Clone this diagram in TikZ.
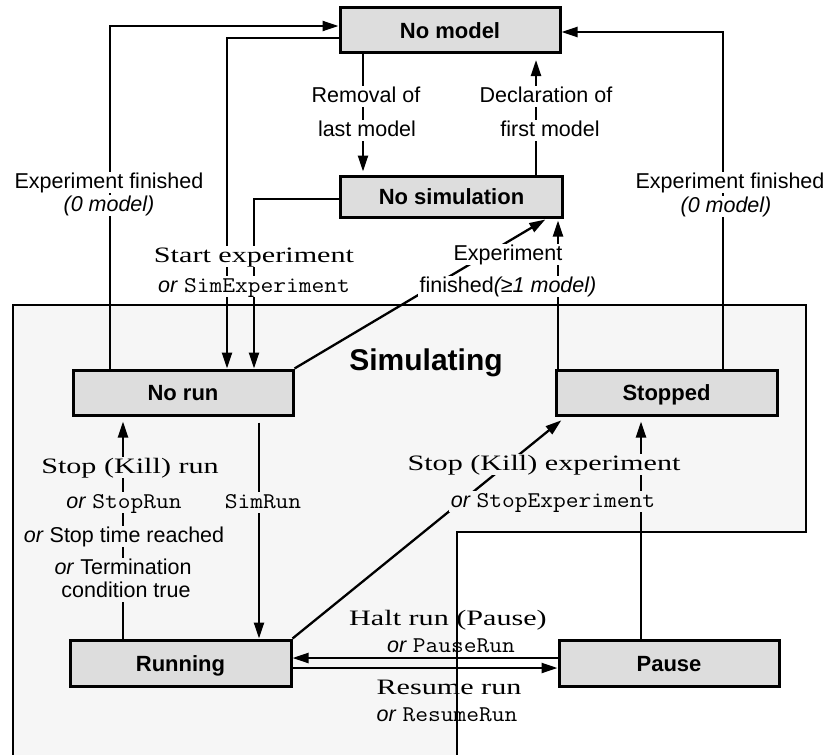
\documentclass[tikz,border=0pt]{standalone}
\usepackage{fontspec}
\setmainfont{Liberation Sans}
\newfontfamily\widerm[FakeStretch=1.37]{Liberation Serif}
\newfontfamily\codefont[FakeStretch=1.1]{Latin Modern Mono}
\usetikzlibrary{arrows.meta,calc}

\definecolor{boxgray}{RGB}{221,221,221}
\definecolor{simgray}{RGB}{246,246,246}

% text helpers: stretched serif, typewriter commands, italic "or"
\newcommand{\srf}[1]{{\widerm\fontsize{22}{26}\selectfont #1}}
\newcommand{\code}[1]{{\codefont\fontsize{22.5}{26}\selectfont #1}}
\newcommand{\orw}{\textit{or} }

\begin{document}
\begin{tikzpicture}[x=1pt,y=-1pt,
  statebox/.style={draw,line width=3pt,fill=boxgray,minimum width=#1,
    inner sep=0pt,font=\fontsize{22}{26}\selectfont\bfseries,
    text height=16pt,text depth=0pt},
  conn/.style={line width=2.3pt,-{Triangle[length=16pt,width=10pt]}},
  lbl/.style={anchor=base,inner xsep=1.5pt,inner ysep=0.5pt,
    text height=15.5pt,text depth=4.5pt,font=\fontsize{21.5}{26}\selectfont},
  lblw/.style={lbl,fill=white},
  lblg/.style={lbl,fill=simgray},
  lbln/.style={lbl}]
\useasboundingbox (0,0) rectangle (828,755);

% the "Simulating" super-state, open at the bottom
\fill[simgray] (13,765) -- (13,305) -- (806,305) -- (806,532) -- (457,532) -- (457,765) -- cycle;
\draw[line width=2.5pt] (13,765) -- (13,305) -- (806,305) -- (806,532) -- (457,532) -- (457,765);
\node[font=\fontsize{30}{34}\selectfont\bfseries,anchor=base] (simlabel) at (426,370) {Simulating};

% states
\node[statebox=220pt,minimum height=45pt] (nomodel) at (450,30) {No model};
\node[statebox=222pt,minimum height=41pt] (nosim) at (451.5,196.5) {No simulation};
\node[statebox=220pt,minimum height=45pt] (norun) at (183,392.5) {No run};
\node[statebox=221pt,minimum height=45pt] (stopped) at (666.5,392.5) {Stopped};
\node[statebox=221pt,minimum height=46pt] (running) at (180.5,663) {Running};
\node[statebox=220pt,minimum height=46pt] (pause) at (669,663) {Pause};

% columns and rows used by the connectors
\coordinate (c110) at (110,0);
\coordinate (c123) at (123,0);
\coordinate (c227) at (227,0);
\coordinate (c254) at (254,0);
\coordinate (c259) at (259,0);
\coordinate (c363) at (363,0);
\coordinate (c536) at (536,0);
\coordinate (c547) at (547,0);
\coordinate (c558) at (558,0);
\coordinate (c566) at (566,0);
\coordinate (c641) at (641,0);
\coordinate (c723) at (723,0);
\coordinate (r26) at (0,26);
\coordinate (r32) at (0,32);
\coordinate (r38) at (0,38);
\coordinate (r199) at (0,199);
\coordinate (r658) at (0,658);
\coordinate (r668) at (0,668);

% transitions
\draw[conn] (norun.north -| c110) |- (nomodel.west |- r26);
\draw[conn] (nomodel.west |- r38) -| (norun.north -| c227);
\draw[conn] (nosim.west |- r199) -| (norun.north -| c254);
\draw[conn,shorten >=3pt] (nomodel.south -| c363) -- (nosim.north -| c363);
\draw[conn,shorten >=6pt] (nosim.north -| c536) -- (nomodel.south -| c536);
\draw[conn,shorten >=2pt] (norun.north east) -- (nosim.south -| c547);
\draw[conn,shorten >=2pt] (stopped.north -| c558) -- (nosim.south -| c558);
\draw[conn] (stopped.north -| c723) |- (nomodel.east |- r32);
\draw[conn,shorten <=6pt] (norun.south -| c259) -- (running.north -| c259);
\draw[conn,shorten >=5pt] (running.north -| c123) -- (norun.south -| c123);
\draw[conn,shorten >=6pt] (running.north east) -- (stopped.south -| c566);
\draw[conn,shorten >=5pt] (pause.north -| c641) -- (stopped.south -| c641);
\draw[conn] (pause.west |- r658) -- (running.east |- r658);
\draw[conn] (running.east |- r668) -- (pause.west |- r668);

% transition labels
\node[lblw] (l1a) at (109,188) {Experiment finished};
\node[lblw] (l1b) at (109,211) {\textit{(0 model)}};
\node[lblw] (l2a) at (254,262) {\srf{Start experiment}};
\node[lblw] (l2b) at (254,292) {\orw\code{SimExperiment}};
\node[lblw] (l3a) at (366,102) {Removal of};
\node[lblw] (l3b) at (367,136) {last model};
\node[lblw] (l4a) at (546,102) {Declaration of};
\node[lblw] (l4b) at (550,136) {first model};
\node[lblw] (l5a) at (508,260) {Experiment};
\node[lblw] (l5b) at (508,292) {finished\textit{(≥1 model)}};
\node[lblw] (l6a) at (730,188) {Experiment finished};
\node[lblw] (l6b) at (726,212) {\textit{(0 model)}};
\node[lblg] (l7a) at (130,473) {\srf{Stop (Kill) run}};
\node[lblg] (l7b) at (124,508) {\orw\code{StopRun}};
\node[lblg] (l7c) at (124,542) {\textit{or} Stop time reached};
\node[lblg] (l7d) at (123,574) {\textit{or} Termination};
\node[lblg,text height=19pt] (l7e) at (126,597) {condition true};
\node[lblg] (l8) at (263,508) {\code{SimRun}};
\node[lblg] (l9a) at (544,470) {\srf{Stop (Kill) experiment}};
\node[lblg] (l9b) at (553,507) {\orw\code{StopExperiment}};
\node[lbln] (l10a) at (448,625) {\srf{Halt run (Pause)}};
\node[lbln] (l10b) at (451,652) {\orw\code{PauseRun}};
\node[lbln] (l11a) at (449,694) {\srf{Resume run}};
\node[lbln] (l11b) at (447,721) {\orw\code{ResumeRun}};
\end{tikzpicture}
\end{document}
